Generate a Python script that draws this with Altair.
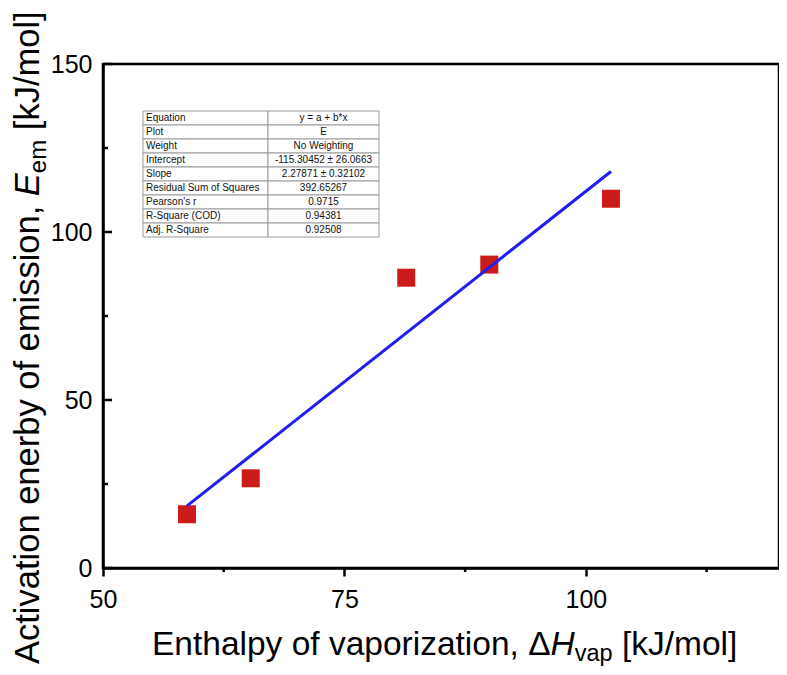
import altair as alt
import pandas as pd

# ---------------- data ----------------
x_vals = [58.7, 65.3, 81.4, 90.0, 102.6]
y_vals = [16.0, 26.7, 86.4, 90.3, 109.9]

x_major = [50, 75, 100]
x_minor = [62.5, 87.5, 112.5]
y_major = [0, 50, 100, 150]
y_minor = [25, 75, 125]

table_labels = ["Equation", "Plot", "Weight", "Intercept", "Slope",
                "Residual Sum of Squares", "Pearson's r", "R-Square (COD)",
                "Adj. R-Square"]
table_values = ["y = a + b*x", "E", "No Weighting", "-115.30452 ± 26.0663",
                "2.27871 ± 0.32102", "392.65267", "0.9715", "0.94381", "0.92508"]

x_title_parts = ["Enthalpy of vaporization, Δ", "H", "vap", " [kJ/mol]"]
y_title_parts = ["Activation enerby of emission, ", "E", "em", " [kJ/mol]"]

# ---------------- layout ----------------
W, H = 676, 504
PAD_L, PAD_T, PAD_B = 95, 56, 99
TITLE_FONT = "Liberation Sans"

AW = {' ': 278, ',': 278, '.': 278, '/': 278, '[': 278, ']': 278, "'": 191,
      '(': 333, ')': 333, '-': 333, 'Δ': 668,
      'A': 667, 'B': 667, 'C': 722, 'D': 722, 'E': 667, 'F': 611, 'G': 778,
      'H': 722, 'I': 278, 'J': 500, 'K': 667, 'L': 556, 'M': 833, 'N': 722,
      'O': 778, 'P': 667, 'Q': 778, 'R': 722, 'S': 667, 'T': 611, 'U': 722,
      'V': 667, 'W': 944, 'X': 667, 'Y': 667, 'Z': 611,
      'a': 556, 'b': 556, 'c': 500, 'd': 556, 'e': 556, 'f': 278, 'g': 556,
      'h': 556, 'i': 222, 'j': 222, 'k': 500, 'l': 222, 'm': 833, 'n': 556,
      'o': 556, 'p': 556, 'q': 556, 'r': 333, 's': 500, 't': 278, 'u': 556,
      'v': 500, 'w': 722, 'x': 500, 'y': 500, 'z': 500}


def tw(s, size):
    return sum(AW.get(c, 556) for c in s) / 1000.0 * size


xs = alt.Scale(domain=[50, 120], nice=False, zero=False)
ys = alt.Scale(domain=[0, 150], nice=False, zero=False)

pts = pd.DataFrame({"x": x_vals, "y": y_vals})

x_axis = alt.Axis(values=x_major, tickSize=8, tickWidth=2.5, tickColor="black",
                  domainColor="black", domainWidth=2.5, labelFontSize=25,
                  labelFont="Liberation Sans", labelColor="black",
                  labelPadding=11, grid=False, title="", labelFlush=False)
y_axis = alt.Axis(values=y_major, ticks=False, tickSize=0,
                  domainColor="black", domainWidth=2.5, labelFontSize=25,
                  labelFont="Liberation Sans", labelColor="black",
                  labelPadding=11, grid=False, title="", labelFlush=False)

points = alt.Chart(pts).mark_square(size=324, color="#cc1b1b", opacity=1).encode(
    x=alt.X("x:Q", scale=xs, axis=x_axis),
    y=alt.Y("y:Q", scale=ys, axis=y_axis),
)

fit = alt.Chart(pts).transform_regression("x", "y").mark_line(
    color="#1f1ff0", strokeWidth=3
).encode(
    x=alt.X("x:Q", scale=xs, axis=x_axis),
    y=alt.Y("y:Q", scale=ys, axis=y_axis),
)

# minor / inward ticks
xminor = alt.Chart(pd.DataFrame({"x": x_minor})).mark_rule(
    color="black", strokeWidth=2.5).encode(
    x=alt.X("x:Q", scale=xs, axis=x_axis), y=alt.value(H), y2=alt.value(H + 4))
ymajor = alt.Chart(pd.DataFrame({"y": y_major})).mark_rule(
    color="black", strokeWidth=2.5).encode(
    y=alt.Y("y:Q", scale=ys, axis=y_axis), x=alt.value(0), x2=alt.value(9))
yminor = alt.Chart(pd.DataFrame({"y": y_minor})).mark_rule(
    color="black", strokeWidth=2.5).encode(
    y=alt.Y("y:Q", scale=ys, axis=y_axis), x=alt.value(0), x2=alt.value(5))

# results table
TL, TS, TR, TT, RH = 40, 165, 276, 47, 14
tdf = pd.DataFrame({"row": list(range(len(table_labels))),
                    "label": table_labels, "value": table_values})
tbase = alt.Chart(tdf).transform_calculate(
    ytop=f"{TT} + datum.row * {RH}",
    ybot=f"{TT} + (datum.row + 1) * {RH}",
    ymid=f"{TT} + (datum.row + 0.5) * {RH}",
    xl=f"{TL}", xs_=f"{TS}", xr=f"{TR}",
    xlt=f"{TL + 3}", xvc=f"{(TS + TR) / 2}",
)
cell_style = dict(fill="white", stroke="#9a9a9a", strokeWidth=1)
lcells = tbase.mark_rect(**cell_style).encode(
    x=alt.X("xl:Q", scale=None, axis=None), x2="xs_:Q",
    y=alt.Y("ytop:Q", scale=None, axis=None), y2="ybot:Q")
vcells = tbase.mark_rect(**cell_style).encode(
    x=alt.X("xs_:Q", scale=None, axis=None), x2="xr:Q",
    y=alt.Y("ytop:Q", scale=None, axis=None), y2="ybot:Q")
ltext = tbase.mark_text(align="left", baseline="middle", fontSize=10,
                        font="Liberation Sans", color="#111111").encode(
    x=alt.X("xlt:Q", scale=None, axis=None),
    y=alt.Y("ymid:Q", scale=None, axis=None), text="label:N")
vtext = tbase.mark_text(align="center", baseline="middle", fontSize=10,
                        font="Liberation Sans", color="#111111").encode(
    x=alt.X("xvc:Q", scale=None, axis=None),
    y=alt.Y("ymid:Q", scale=None, axis=None), text="value:N")

# axis titles with italic letters and subscripts
styles = [("normal", False), ("italic", False), ("normal", True), ("normal", False)]
title_layers = []


def lead(s):
    return s[:len(s) - len(s.lstrip(" "))]


# x title
FSX, SUBX, SHX = 33.5, 23.5, 6
cx, base_y = 49, 591
for part, (fst, sub) in zip(x_title_parts, styles):
    size = SUBX if sub else FSX
    yy = base_y + (SHX if sub else 0)
    start = cx + tw(lead(part), size)
    title_layers.append(
        alt.Chart(pd.DataFrame({"t": [part.strip(" ")]})).mark_text(
            align="left", baseline="alphabetic", font=TITLE_FONT,
            fontSize=size, fontStyle=fst, color="black").encode(
            text="t:N", x=alt.value(start), y=alt.value(yy)))
    cx += tw(part, size)

# y title (rotated)
FSY, SUBY, SHY = 34.5, 24, 7
cy, base_x = 600, -64
for part, (fst, sub) in zip(y_title_parts, styles):
    size = SUBY if sub else FSY
    xx = base_x + (SHY if sub else 0)
    start = cy - tw(lead(part), size)
    title_layers.append(
        alt.Chart(pd.DataFrame({"t": [part.strip(" ")]})).mark_text(
            align="left", baseline="alphabetic", font=TITLE_FONT,
            fontSize=size, fontStyle=fst, color="black", angle=270).encode(
            text="t:N", x=alt.value(xx), y=alt.value(start)))
    cy -= tw(part, size)

chart = alt.layer(points, fit, xminor, ymajor, yminor,
                  lcells, vcells, ltext, vtext, *title_layers).properties(
    width=W, height=H,
    autosize=alt.AutoSizeParams(type="none"),
    padding={"left": PAD_L, "top": PAD_T, "right": 0, "bottom": PAD_B},
    background="white",
).configure_view(stroke="black", strokeWidth=2.5)

chart.save("out.html", embed_options={"renderer": "svg", "actions": False})
